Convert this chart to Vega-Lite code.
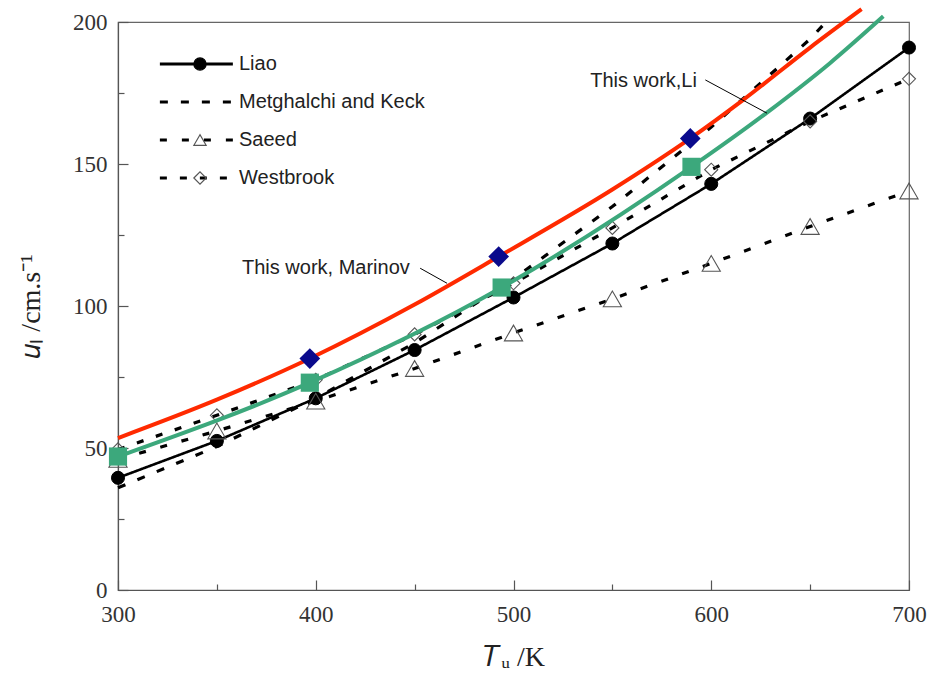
{
  "$schema": "https://vega.github.io/schema/vega-lite/v6.json",
  "autosize": {"type": "none"},
  "width": 791,
  "height": 568,
  "padding": {"left": 118, "top": 22, "right": 28, "bottom": 84},
  "background": "white",
  "datasets": {
    "lit": [
      {"series": "Liao", "T": 300, "u": 39.5},
      {"series": "Liao", "T": 350, "u": 52.5},
      {"series": "Liao", "T": 400, "u": 67.5},
      {"series": "Liao", "T": 450, "u": 84.5},
      {"series": "Liao", "T": 500, "u": 103},
      {"series": "Liao", "T": 550, "u": 122},
      {"series": "Liao", "T": 600, "u": 143},
      {"series": "Liao", "T": 650, "u": 166},
      {"series": "Liao", "T": 700, "u": 191},
      {"series": "Metghalchi and Keck", "T": 300, "u": 36},
      {"series": "Metghalchi and Keck", "T": 350, "u": 50.5},
      {"series": "Metghalchi and Keck", "T": 400, "u": 67.5},
      {"series": "Metghalchi and Keck", "T": 450, "u": 87},
      {"series": "Metghalchi and Keck", "T": 500, "u": 109.5},
      {"series": "Metghalchi and Keck", "T": 550, "u": 135},
      {"series": "Metghalchi and Keck", "T": 600, "u": 163},
      {"series": "Metghalchi and Keck", "T": 650, "u": 194},
      {"series": "Metghalchi and Keck", "T": 658, "u": 200},
      {"series": "Saeed", "T": 300, "u": 46},
      {"series": "Saeed", "T": 350, "u": 56},
      {"series": "Saeed", "T": 400, "u": 66.5},
      {"series": "Saeed", "T": 450, "u": 78},
      {"series": "Saeed", "T": 500, "u": 90.5},
      {"series": "Saeed", "T": 550, "u": 102.5},
      {"series": "Saeed", "T": 600, "u": 115},
      {"series": "Saeed", "T": 650, "u": 128},
      {"series": "Saeed", "T": 700, "u": 140.5},
      {"series": "Westbrook", "T": 300, "u": 49.5},
      {"series": "Westbrook", "T": 350, "u": 61.5},
      {"series": "Westbrook", "T": 400, "u": 74},
      {"series": "Westbrook", "T": 450, "u": 90},
      {"series": "Westbrook", "T": 500, "u": 108},
      {"series": "Westbrook", "T": 550, "u": 127.5},
      {"series": "Westbrook", "T": 600, "u": 148},
      {"series": "Westbrook", "T": 650, "u": 165},
      {"series": "Westbrook", "T": 700, "u": 180}
    ],
    "marinov": [
      {"T": 300, "u": 53.5},
      {"T": 350, "u": 67},
      {"T": 397, "u": 81.5},
      {"T": 450, "u": 100.5},
      {"T": 492.5, "u": 117.4},
      {"T": 550, "u": 141},
      {"T": 589.4, "u": 159},
      {"T": 616, "u": 172.5},
      {"T": 650, "u": 191},
      {"T": 676, "u": 204.5}
    ],
    "marinovPts": [
      {"T": 397, "u": 81.5},
      {"T": 492.5, "u": 117.4},
      {"T": 589.4, "u": 159}
    ],
    "li": [
      {"T": 300, "u": 47},
      {"T": 397, "u": 73},
      {"T": 494, "u": 106.5},
      {"T": 590, "u": 149},
      {"T": 628, "u": 168},
      {"T": 660, "u": 185.5},
      {"T": 687, "u": 202}
    ],
    "liPts": [
      {"T": 300, "u": 47},
      {"T": 397, "u": 73},
      {"T": 494, "u": 106.5},
      {"T": 590, "u": 149}
    ],
    "notes": [
      {"label": "This work,Li", "T": 538.8, "u": 179.3},
      {"label": "This work, Marinov", "T": 362.7, "u": 113.3}
    ],
    "leaders": [
      {"T": 597, "u": 179.6, "T2": 628.2, "u2": 167.9},
      {"T": 452.8, "u": 113.3, "T2": 466.4, "u2": 108}
    ]
  },
  "encoding": {
    "x": {
      "field": "T", "type": "quantitative",
      "scale": {"domain": [300, 700], "nice": false, "zero": false},
      "axis": {
        "title": "𝑇ᵤ /K",
        "values": [300, 350, 400, 450, 500, 550, 600, 650, 700],
        "labelExpr": "datum.value % 100 === 0 ? datum.label : ''",
        "labelFlush": false,
        "tickSize": {"condition": {"test": "datum.value % 100 === 0", "value": -10}, "value": -6},
        "labelPadding": 23,
        "titlePadding": 17
      }
    },
    "y": {
      "field": "u", "type": "quantitative",
      "scale": {"domain": [0, 200], "nice": false},
      "axis": {
        "title": "𝑢ₗ /cm.s⁻¹",
        "values": [0, 25, 50, 75, 100, 125, 150, 175, 200],
        "labelExpr": "datum.value % 50 === 0 ? datum.label : ''",
        "labelFlush": false,
        "tickSize": {"condition": {"test": "datum.value % 50 === 0", "value": -10}, "value": -6},
        "labelPadding": 21,
        "titlePadding": 27
      }
    }
  },
  "layer": [
    {
      "data": {"name": "lit"},
      "transform": [{"filter": "datum.series === 'Liao'"}],
      "mark": {"type": "line", "color": "black", "strokeWidth": 2.6},
      "encoding": {
        "strokeDash": {
          "field": "series", "type": "nominal",
          "scale": {"range": [[1, 0], [8, 13], [7, 15], [7, 13]]},
          "legend": {
            "title": null, "orient": "none", "legendX": 38, "legendY": 32,
            "symbolType": "M-1,0H10.92", "symbolSize": 150, "symbolStrokeWidth": 3.2,
            "symbolStrokeColor": "black", "labelFont": "Liberation Sans",
            "labelFontSize": 20, "labelColor": "#222", "labelOffset": 63,
            "labelLimit": 400, "rowPadding": 18, "padding": 0
          }
        }
      }
    },
    {
      "data": {"name": "lit"},
      "transform": [{"filter": "datum.series !== 'Liao'"}],
      "mark": {"type": "line", "color": "black", "strokeWidth": 3.2},
      "encoding": {
        "strokeDash": {"field": "series", "type": "nominal"}
      }
    },
    {
      "data": {"name": "lit"},
      "transform": [{"filter": "datum.series === 'Liao'"}],
      "mark": {"type": "point", "size": 170, "strokeWidth": 1, "opacity": 1},
      "encoding": {
        "shape": {
          "field": "series", "type": "nominal",
          "scale": {"domain": ["Liao", "Metghalchi and Keck", "Saeed", "Westbrook"], "range": ["circle", "circle", "triangle-up", "diamond"]},
          "legend": {
            "title": null, "orient": "none", "legendX": 72, "legendY": 32,
            "symbolSize": 150, "symbolStrokeWidth": 1.2,
            "labelExpr": "' '", "labelFont": "Liberation Sans", "labelFontSize": 20,
            "labelOffset": 6, "rowPadding": 18, "padding": 0
          }
        },
        "fill": {
          "field": "series", "type": "nominal",
          "scale": {"domain": ["Liao", "Metghalchi and Keck", "Saeed", "Westbrook"], "range": ["black", "transparent", "transparent", "transparent"]}
        },
        "stroke": {
          "field": "series", "type": "nominal",
          "scale": {"domain": ["Liao", "Metghalchi and Keck", "Saeed", "Westbrook"], "range": ["black", "transparent", "#555555", "#555555"]}
        }
      }
    },
    {
      "data": {"name": "lit"},
      "transform": [{"filter": "datum.series === 'Saeed'"}],
      "mark": {"type": "point", "size": 330, "strokeWidth": 1.1, "opacity": 1},
      "encoding": {
        "shape": {"field": "series", "type": "nominal"},
        "fill": {"field": "series", "type": "nominal"},
        "stroke": {"field": "series", "type": "nominal"}
      }
    },
    {
      "data": {"name": "lit"},
      "transform": [{"filter": "datum.series === 'Westbrook'"}],
      "mark": {"type": "point", "size": 170, "strokeWidth": 1.1, "opacity": 1},
      "encoding": {
        "shape": {"field": "series", "type": "nominal"},
        "fill": {"field": "series", "type": "nominal"},
        "stroke": {"field": "series", "type": "nominal"}
      }
    },
    {
      "data": {"name": "li"},
      "mark": {"type": "line", "color": "#3ca87c", "strokeWidth": 4, "interpolate": "monotone"},
      "encoding": {}
    },
    {
      "data": {"name": "marinov"},
      "mark": {"type": "line", "color": "#ff2a00", "strokeWidth": 4, "interpolate": "monotone"},
      "encoding": {}
    },
    {
      "data": {"name": "liPts"},
      "mark": {"type": "square", "color": "#3ca87c", "size": 330, "opacity": 1},
      "encoding": {}
    },
    {
      "data": {"name": "marinovPts"},
      "mark": {"type": "point", "shape": "diamond", "filled": true, "color": "#0a0a8c", "size": 430, "opacity": 1},
      "encoding": {}
    },
    {
      "data": {"name": "leaders"},
      "mark": {"type": "rule", "color": "black", "strokeWidth": 1},
      "encoding": {
        "x2": {"field": "T2"},
        "y2": {"field": "u2"}
      }
    },
    {
      "data": {"name": "notes"},
      "mark": {"type": "text", "align": "left", "baseline": "middle", "font": "Liberation Sans", "fontSize": 20, "color": "#222"},
      "encoding": {
        "text": {"field": "label"}
      }
    }
  ],
  "config": {
    "view": {"stroke": "#666", "strokeWidth": 1.2},
    "axis": {
      "grid": false,
      "domainColor": "#555",
      "domainWidth": 1.2,
      "tickColor": "#555",
      "tickWidth": 1.2,
      "labelFont": "Liberation Serif",
      "labelFontSize": 23,
      "labelColor": "#333",
      "titleFont": "Liberation Serif",
      "titleFontSize": 28,
      "titleFontWeight": "normal",
      "titleColor": "#222"
    }
  }
}
